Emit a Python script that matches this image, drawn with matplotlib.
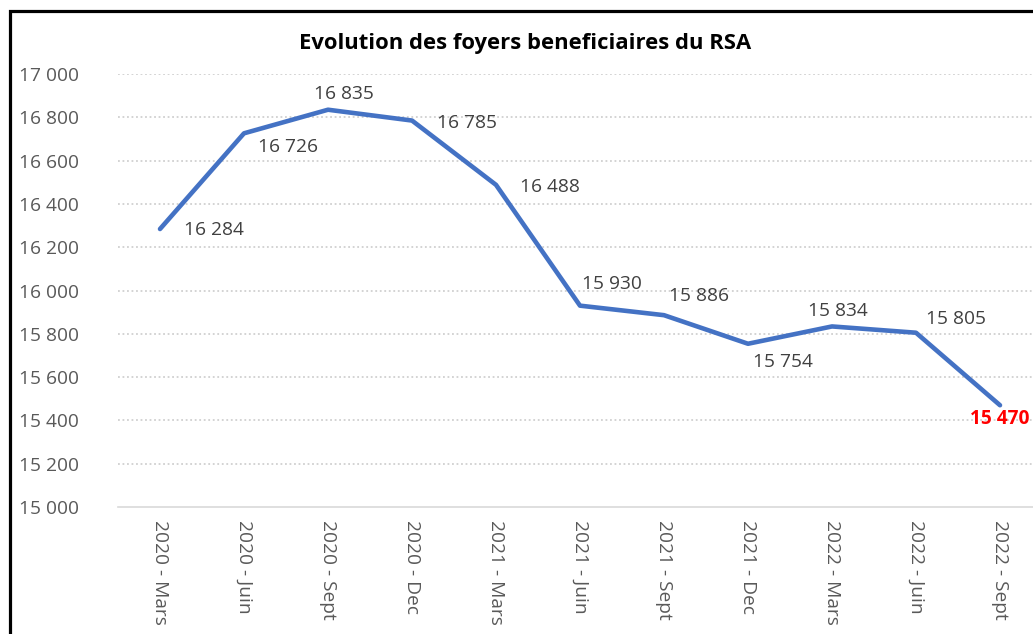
import matplotlib
matplotlib.use("Agg")
import matplotlib.pyplot as plt
from matplotlib.patches import Rectangle
import matplotlib.transforms as mtransforms

categories = ["2020 - Mars", "2020 - Juin", "2020 - Sept", "2020 - Dec", "2021 - Mars",
              "2021 - Juin", "2021 - Sept", "2021 - Dec", "2022 - Mars", "2022 - Juin", "2022 - Sept"]
values = [16284, 16726, 16835, 16785, 16488, 15930, 15886, 15754, 15834, 15805, 15470]
yticks = [15000, 15200, 15400, 15600, 15800, 16000, 16200, 16400, 16600, 16800, 17000]
title = "Evolution des foyers beneficiaires du RSA"

# label offsets in pixels (dx, dy) relative to point, with alignment
offsets = [(24, -1, "left", "center"), (14, -14, "left", "center"), (16, 16, "center", "center"),
           (25, -2, "left", "center"), (24, -2, "left", "center"), (32, 22, "center", "center"),
           (35, 19, "center", "center"), (35, -18, "center", "center"), (6, 15, "center", "center"),
           (40, 14, "center", "center"), (0, -14, "center", "center")]

plt.rcParams['font.family'] = ['Open Sans', 'DejaVu Sans']
W, H = 1033, 634
fig = plt.figure(figsize=(W / 100, H / 100), dpi=100)
ax = fig.add_axes([118 / W, 127 / H, 924 / W, 433 / H])
x = list(range(len(categories)))
ax.plot(x, values, color="#4472C4", lw=3.3, solid_joinstyle="round", solid_capstyle="round", zorder=3)
ax.set_xlim(-0.5, len(categories) - 0.5)
ax.set_ylim(15000, 17000)
ax.set_yticks(yticks)
ax.set_yticklabels([f"{v:,}".replace(",", " ") for v in yticks])
ax.set_xticks(x)
ax.set_xticklabels(categories, rotation=-90, va="top", ha="center")
ax.tick_params(axis="y", length=0, pad=28, labelsize=13.8, labelcolor="#595959")
ax.tick_params(axis="x", length=0, pad=9, labelsize=13.8, labelcolor="#595959")
for s in ["top", "right", "left"]:
    ax.spines[s].set_visible(False)
ax.spines["bottom"].set_color("#d9d9d9")
ax.spines["bottom"].set_linewidth(1.2)
for t in yticks[1:]:
    ax.axhline(t, color="#d0d0d0", lw=1.3, ls=(0, (1, 1.5)), zorder=1)

for i, (v, (dx, dy, ha, va)) in enumerate(zip(values, offsets)):
    last = i == len(values) - 1
    tr = mtransforms.offset_copy(ax.transData, fig=fig, x=dx * 0.72, y=dy * 0.72, units="points")
    ax.text(i, v, f"{v:,}".replace(",", " "), transform=tr, ha=ha, va=va,
            fontsize=13.8, color="red" if last else "#404040",
            fontweight="bold" if last else "normal", clip_on=False)

fig.text(525 / W, 1 - 44 / H, title, ha="center", va="center", fontsize=15.8, fontweight="bold", color="black")

fig.patches.append(Rectangle((9.5 / W, -0.1), 1.2, (H - 10.5) / H + 0.1, transform=fig.transFigure,
                             fill=False, edgecolor="black", lw=2.3, clip_on=False))
fig.savefig("out.png", dpi=100)
